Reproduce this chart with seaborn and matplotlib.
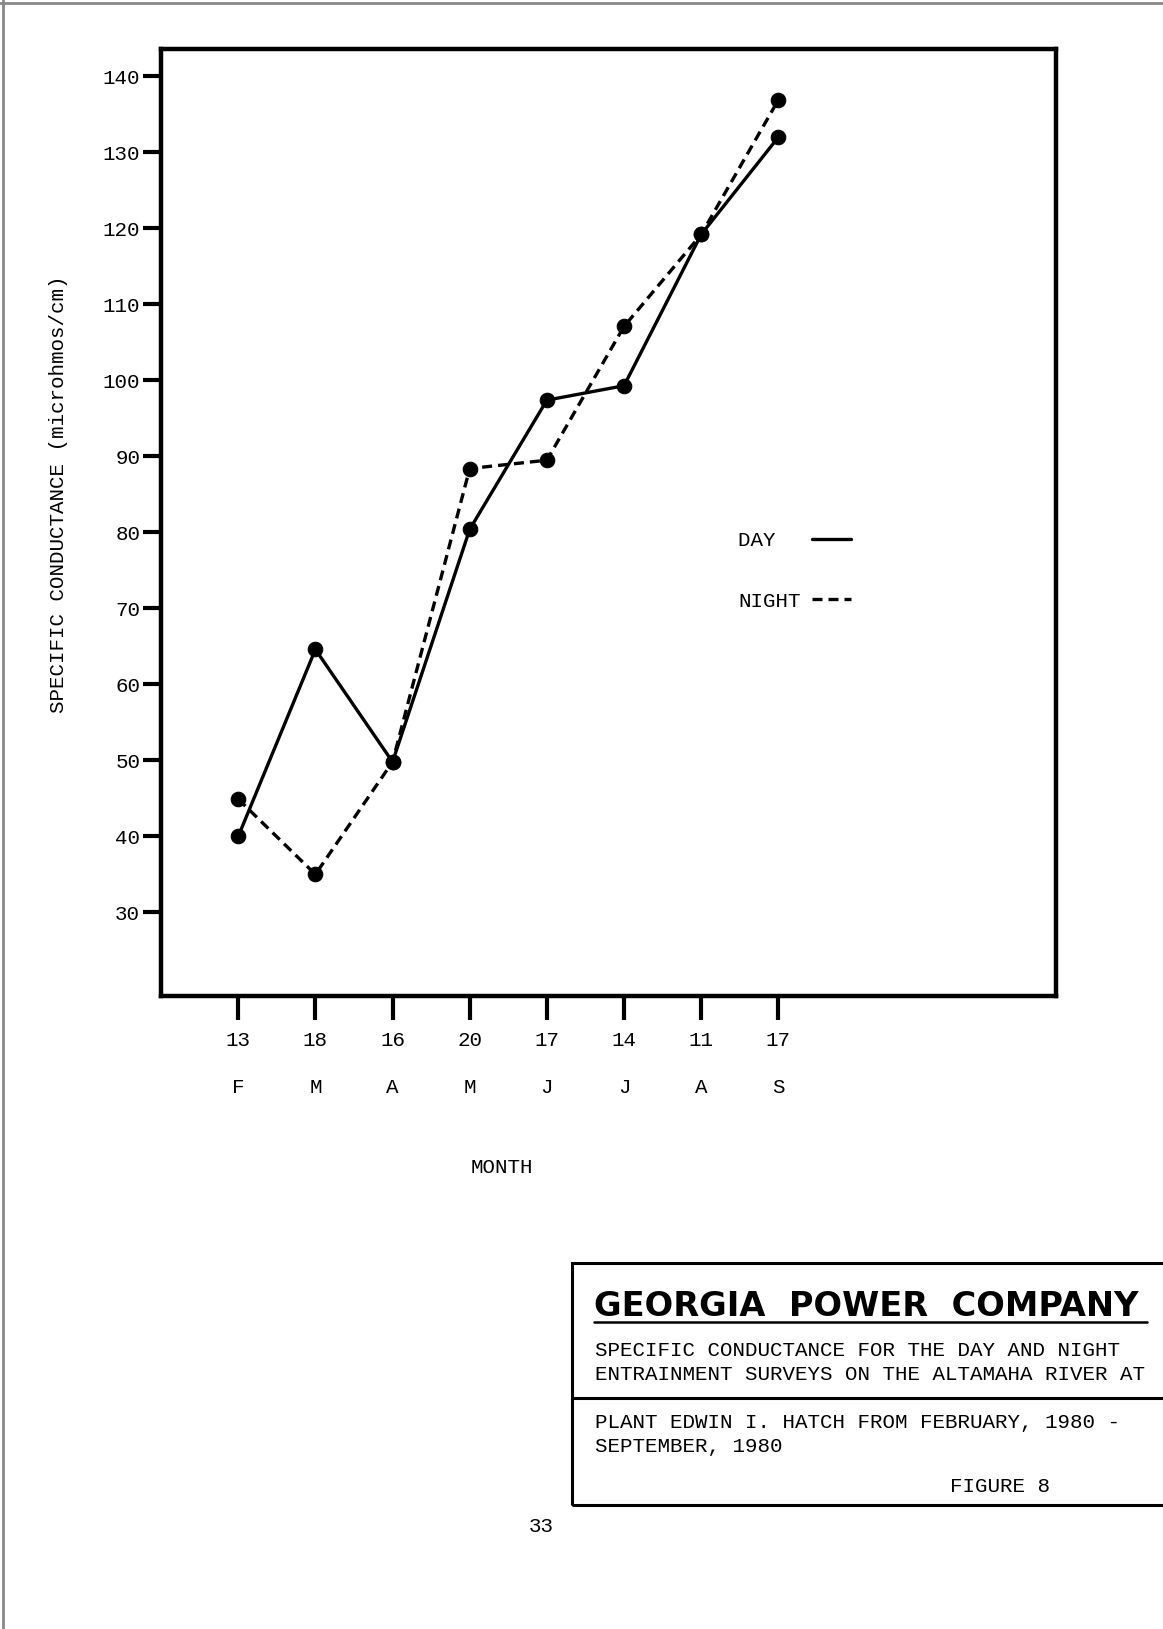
import numpy as np
import pandas as pd
import matplotlib
matplotlib.use("Agg")
import matplotlib.pyplot as plt
import seaborn as sns
from matplotlib.lines import Line2D

# Survey dates (day / month letter) and conductance readings
days = [13, 18, 16, 20, 17, 14, 11, 17]
months = ["F", "M", "A", "M", "J", "J", "A", "S"]
day_vals = [40.0, 64.6, 49.8, 80.4, 97.4, 99.3, 119.2, 132.0]
night_vals = [44.9, 35.0, 49.8, 88.4, 89.5, 107.1, 119.2, 136.9]
yticks = [30, 40, 50, 60, 70, 80, 90, 100, 110, 120, 130, 140]

MONO = "Liberation Mono"

sns.set_style("white")
plt.rcParams["font.family"] = [MONO, "DejaVu Sans"]
for k in ["text.color", "axes.labelcolor", "xtick.color", "ytick.color"]:
    plt.rcParams[k] = "black"

pos = np.arange(len(days))
df = pd.DataFrame({
    "pos": np.concatenate([pos, pos]),
    "value": day_vals + night_vals,
    "survey": ["DAY"] * len(days) + ["NIGHT"] * len(days),
})

fig = plt.figure(figsize=(11.63, 16.29), dpi=100)
ax = fig.add_axes([0.1385, 0.3886, 0.7696, 0.5813])

sns.lineplot(data=df, x="pos", y="value", hue="survey", style="survey",
             palette=["black", "black"], markers=["o", "o"],
             dashes=["", (3, 1.8)], linewidth=2.4, markersize=10.5,
             markeredgecolor="black", ax=ax, legend=False)

ax.set_xlim(-1.0, 10.6)
ax.set_ylim(19.0, 143.6)

for s in ax.spines.values():
    s.set_linewidth(3.2)
    s.set_color("black")

ax.set_yticks(yticks)
ax.set_yticklabels([str(v) for v in yticks], fontsize=15)
ax.set_xticks(pos)
ax.set_xticklabels([f"{d}\n\n{m}" for d, m in zip(days, months)],
                   fontsize=15, linespacing=1.3)
ax.tick_params(axis="y", direction="out", length=13, width=3, pad=2, left=True)
ax.tick_params(axis="x", direction="out", length=17, width=3, pad=8, bottom=True)

ax.set_ylabel("SPECIFIC CONDUCTANCE (microhmos/cm)", fontsize=15)
ax.yaxis.set_label_coords(-0.104, 0.53)
ax.set_xlabel("MONTH", fontsize=15)
ax.xaxis.set_label_coords(0.381, -0.171)

handles = [Line2D([], [], color="black", lw=2.4),
           Line2D([], [], color="black", lw=2.4, dashes=(3, 1.8))]
ax.legend(handles, ["DAY  ", "NIGHT"], loc="upper left",
          bbox_to_anchor=(0.645, 0.491), frameon=False, markerfirst=False,
          prop={"family": MONO, "size": 15}, handlelength=1.85,
          handletextpad=0.55, labelspacing=2.0, borderpad=0, borderaxespad=0)

# title block
W, H = 1163, 1629
def fx(px):
    return px / W
def fy(py):
    return 1 - py / H

box = plt.Rectangle((fx(572), fy(1505)), fx(1170) - fx(572), fy(1263) - fy(1505),
                    transform=fig.transFigure, fill=False, lw=2.2, ec="black")
fig.add_artist(box)
fig.add_artist(Line2D([fx(572), fx(1163)], [fy(1398), fy(1398)],
                      transform=fig.transFigure, color="black", lw=2.2))

fig.text(fx(594), fy(1306), "GEORGIA  POWER  COMPANY", fontsize=24.2,
         fontweight="heavy", family="DejaVu Sans", va="center", ha="left")
fig.add_artist(Line2D([fx(594), fx(1147)], [fy(1322), fy(1322)],
                      transform=fig.transFigure, color="black", lw=1.8))

title_lines = [
    (1350, "SPECIFIC CONDUCTANCE FOR THE DAY AND NIGHT"),
    (1375, "ENTRAINMENT SURVEYS ON THE ALTAMAHA RIVER AT"),
    (1422, "PLANT EDWIN I. HATCH FROM FEBRUARY, 1980 -"),
    (1447, "SEPTEMBER, 1980"),
]
for y, t in title_lines:
    fig.text(fx(595), fy(y), t, fontsize=15, va="center", ha="left")
fig.text(fx(950), fy(1486), "FIGURE 8", fontsize=15, va="center", ha="left")
fig.text(fx(541), fy(1526), "33", fontsize=15, va="center", ha="center")

# scanned page edge
fig.add_artist(Line2D([fx(3), fx(3)], [0, 1], transform=fig.transFigure,
                      color="#888888", lw=2))
fig.add_artist(Line2D([0, 1], [fy(3), fy(3)], transform=fig.transFigure,
                      color="#888888", lw=2))

fig.savefig("out.png", dpi=100)
